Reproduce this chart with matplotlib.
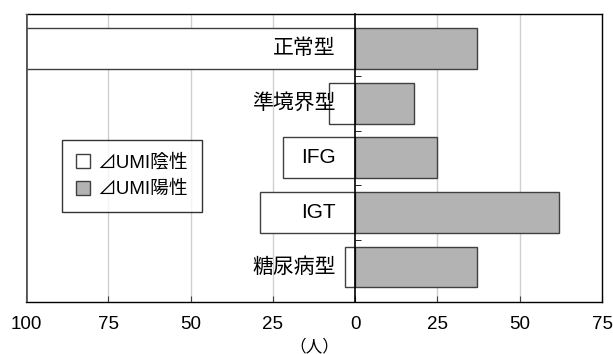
import matplotlib
matplotlib.use("Agg")
import matplotlib.pyplot as plt
from matplotlib.patches import Patch
from matplotlib.ticker import FuncFormatter

plt.rcParams['font.family'] = ['Liberation Sans', 'Noto Sans CJK JP', 'DejaVu Sans']

# data
categories = ['正常型', '準境界型', 'IFG', 'IGT', '糖尿病型']
negative = [100, 8, 22, 29, 3]     # ⊿UMI陰性 (left side)
positive = [37, 18, 25, 62, 37]    # ⊿UMI陽性 (right side)
xticks = [-100, -75, -50, -25, 0, 25, 50, 75]
series_names = ['⊿UMI陰性', '⊿UMI陽性']

fig = plt.figure(figsize=(6.13, 3.54), dpi=100)
ax = fig.add_axes([0.0424, 0.1469, 0.9397, 0.8136])

ypos = list(range(len(categories)))
edge = '#404040'
gray = '#b3b3b3'
ax.barh(ypos, [-v for v in negative], height=0.745, color='white',
        edgecolor=edge, linewidth=1.0, zorder=2)
ax.barh(ypos, positive, height=0.745, color=gray,
        edgecolor=edge, linewidth=1.0, zorder=2)

# vertical grid behind the bars
for t in xticks:
    if t not in (xticks[0], 0, xticks[-1]):
        ax.axvline(t, color='#d0d0d0', linewidth=1.0, zorder=0)

ax.set_xlim(xticks[0], xticks[-1])
ax.set_ylim(4.64, -0.634)
ax.set_xticks(xticks)
ax.xaxis.set_major_formatter(FuncFormatter(lambda v, p: f"{abs(int(v))}"))
ax.tick_params(axis='x', direction='in', length=4, labelsize=13.5, pad=10,
               color='#404040')
ax.set_xlabel('（人）', fontsize=12, labelpad=4)

# y axis at zero, category labels drawn left of it
ax.spines['left'].set_position(('data', 0))
ax.spines['left'].set_zorder(3)
ax.set_yticks([])
ax.set_yticks([i + 0.5 for i in ypos[:-1]], minor=True)
ax.tick_params(axis='y', which='minor', direction='in', length=4)
for y, name in zip(ypos, categories):
    ax.annotate(name, xy=(0, y), xytext=(-14, 0), textcoords='offset points',
                ha='right', va='center', fontsize=15, zorder=5)

# outer frame
for s in ['top', 'right', 'bottom']:
    ax.spines[s].set_color('black')
    ax.spines[s].set_linewidth(1.0)
ax.spines['left'].set_linewidth(1.2)
ax.axvline(xticks[0], color='#555555', linewidth=2.0, zorder=4)

handles = [Patch(facecolor='white', edgecolor=edge, label=series_names[0]),
           Patch(facecolor=gray, edgecolor=edge, label=series_names[1])]
leg = ax.legend(handles=handles, loc='upper left', bbox_to_anchor=(0.0625, 0.5625),
                borderaxespad=0, fontsize=13.5, frameon=True, fancybox=False,
                handlelength=0.75, handleheight=0.75, handletextpad=0.4,
                borderpad=0.75, labelspacing=0.5)
leg.get_frame().set_edgecolor('black')
leg.get_frame().set_linewidth(1.0)

fig.savefig('out.png', dpi=100)
